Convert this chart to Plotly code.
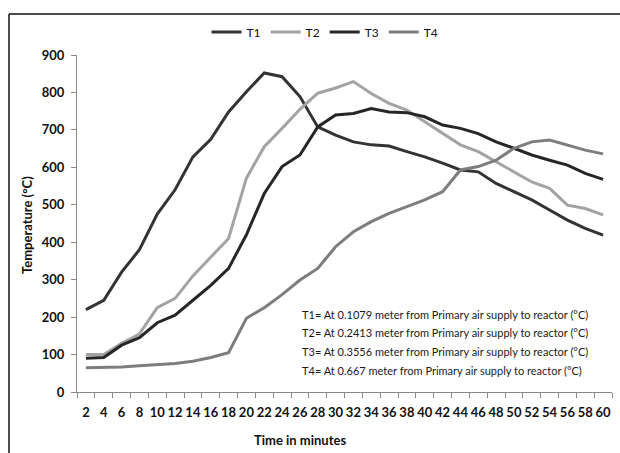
import plotly.graph_objects as go

minutes = [str(m) for m in range(2, 61, 2)]
t1 = [220, 245, 320, 380, 475, 540, 628, 675, 748, 802, 852, 842, 789, 708, 686, 668,
      660, 657, 642, 628, 611, 593, 588, 557, 535, 513, 486, 459, 437, 419]
t2 = [100, 100, 130, 155, 225, 250, 310, 360, 410, 571, 655, 704, 755, 798, 812, 829,
      797, 771, 753, 722, 691, 660, 642, 615, 588, 561, 544, 499, 490, 473]
t3 = [90, 92, 125, 145, 185, 205, 245, 285, 330, 420, 530, 602, 633, 708, 740, 744,
      757, 748, 746, 735, 713, 704, 690, 668, 651, 633, 619, 606, 584, 568]
t4 = [65, 65, 67, 70, 73, 76, 82, 92, 105, 197, 225, 260, 299, 330, 388, 428,
      455, 477, 495, 513, 535, 593, 602, 619, 651, 668, 673, 660, 646, 636]
series_names = ["T1", "T2", "T3", "T4"]
series_vals = [t1, t2, t3, t4]
series_colors = ["#333333", "#a3a3a3", "#262626", "#7d7d7d"]
notes = [
    "T1= At 0.1079 meter from Primary air supply to reactor (°C)",
    "T2= At 0.2413 meter from Primary air supply to reactor (°C)",
    "T3= At 0.3556 meter from Primary air supply to reactor (°C)",
    "T4= At 0.667 meter from Primary air supply to reactor (°C)",
]
y_ticks = list(range(0, 901, 100))

FONT = "Lato, 'Open Sans', sans-serif"
NARROW = "'Liberation Sans Narrow', Lato, sans-serif"
W, H = 620, 453
L, R, T, B = 77, 8, 55, 61
PW, PH = W - L - R, H - T - B


def px(x):
    return (x - L) / PW


def py(y):
    return (H - B - y) / PH


fig = go.Figure()
for name, vals, col in zip(series_names, series_vals, series_colors):
    fig.add_trace(go.Scatter(x=minutes, y=vals, name=name, mode="lines",
                             line=dict(color=col, width=3)))

for i, txt in enumerate(notes):
    fig.add_annotation(text=txt, xref="paper", yref="paper", x=px(300), y=py(314 + i * 18.7),
                       xanchor="left", yanchor="middle", showarrow=False,
                       font=dict(family=FONT, size=11, color="#1a1a1a"))

fig.add_annotation(text="<b>Temperature (°C)</b>", xref="paper", yref="paper",
                   x=px(27), y=py(225), textangle=-90, showarrow=False,
                   xanchor="center", yanchor="middle",
                   font=dict(family=FONT, size=13, color="#111"))
fig.add_annotation(text="<b>Time in minutes</b>", xref="paper", yref="paper",
                   x=px(300), y=py(440), showarrow=False,
                   xanchor="center", yanchor="middle",
                   font=dict(family=FONT, size=13, color="#111"))

# outer frame (top and left edges only are visible in the reference)
fig.add_shape(type="line", xref="paper", yref="paper",
              x0=px(9), y0=py(14), x1=px(620), y1=py(14),
              line=dict(color="#111", width=1.5))
fig.add_shape(type="line", xref="paper", yref="paper",
              x0=px(9), y0=py(14), x1=px(9), y1=py(453),
              line=dict(color="#111", width=1.5))

fig.update_layout(
    width=W, height=H,
    margin=dict(l=L, r=R, t=T, b=B),
    paper_bgcolor="white", plot_bgcolor="white",
    font=dict(family=FONT, color="#111"),
    showlegend=True,
    legend=dict(orientation="h", x=px(325), y=py(32), xanchor="center", yanchor="middle",
                font=dict(family=FONT, size=12, color="#111"), itemwidth=30,
                bgcolor="rgba(0,0,0,0)", tracegroupgap=0),
    xaxis=dict(type="category", range=[-0.5, len(minutes) - 0.5], tickson="boundaries",
               ticks="outside", ticklen=5, tickcolor="#888", showline=True,
               linecolor="#888", linewidth=1, showgrid=False, zeroline=False,
               tickangle=0,
               tickfont=dict(family=NARROW, size=13, color="#111", weight="bold"),
               ticklabelstandoff=8),
    yaxis=dict(range=[0, 900], tickvals=y_ticks, ticks="outside", ticklen=5,
               tickcolor="#888", showline=True, linecolor="#888", linewidth=1,
               showgrid=False, zeroline=False,
               tickfont=dict(family=NARROW, size=13, color="#111", weight="bold"),
               ticklabelstandoff=4),
)

fig.write_html("out.html", config={"displayModeBar": False})
